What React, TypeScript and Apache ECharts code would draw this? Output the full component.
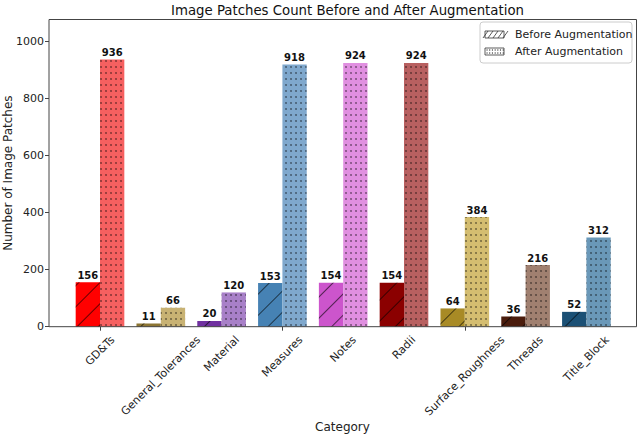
import React, { useEffect, useRef } from "react";
import * as echarts from "echarts";

const categories = [
  "GD&Ts",
  "General_Tolerances",
  "Material",
  "Measures",
  "Notes",
  "Radii",
  "Surface_Roughness",
  "Threads",
  "Title_Block",
];
const beforeValues = [156, 11, 20, 153, 154, 154, 64, 36, 52];
const afterValues = [936, 66, 120, 918, 924, 924, 384, 216, 312];
const beforeColors = [
  "#ff0000",
  "#8c7533",
  "#7030a0",
  "#4682b4",
  "#cc55cc",
  "#8b0000",
  "#a88a25",
  "#4a1c0c",
  "#1b5075",
];
const afterColors = [
  "#f66060",
  "#c8b273",
  "#a880c8",
  "#7fa8cd",
  "#e08fe0",
  "#b86060",
  "#d4bd70",
  "#a08070",
  "#6a98b8",
];
const yTicksMax = 1076;

const FONT = "DejaVu Sans";

export default function App() {
  const ref = useRef<HTMLDivElement>(null);
  useEffect(() => {
    if (!ref.current) return;
    const chart = echarts.init(ref.current, null, { renderer: "svg" });
    const plotL = 49,
      plotR = 636.5,
      plotT = 19.5,
      plotB = 326.7;
    const gridLeft = 69.6;
    const gridWidth = 547.2;

    const hatch = {
      symbol: "rect",
      symbolSize: 1,
      rotation: -Math.PI / 4,
      dashArrayX: [1, 0],
      dashArrayY: [1, 14],
      color: "rgba(0,0,0,0.6)",
    };
    const dots = {
      symbol: "circle",
      symbolSize: 0.8,
      dashArrayX: [2, 2.8],
      dashArrayY: [2, 3.8],
      color: "rgba(0,0,0,0.55)",
    };

    const barLabel = {
      show: true,
      position: "top",
      distance: 2,
      fontFamily: FONT,
      fontSize: 10,
      fontWeight: "bold",
      color: "#111",
    };

    chart.setOption({
      animation: false,
      backgroundColor: "#fff",
      textStyle: { fontFamily: FONT },
      title: {
        text: "Image Patches Count Before and After Augmentation",
        left: 342.5,
        textAlign: "center",
        top: -1,
        textStyle: {
          fontFamily: FONT,
          fontSize: 13.3,
          fontWeight: "normal",
          color: "#111",
        },
      },
      grid: {
        left: gridLeft,
        width: gridWidth,
        top: plotT,
        bottom: 437 - plotB,
        containLabel: false,
        outerBoundsMode: "none",
      },
      xAxis: {
        type: "category",
        data: categories,
        axisLine: { show: false },
        axisTick: {
          show: true,
          alignWithLabel: true,
          length: 4,
          lineStyle: { color: "#444" },
        },
        axisLabel: { show: false },
      },
      yAxis: {
        type: "value",
        min: 0,
        max: yTicksMax,
        interval: 200,
        offset: gridLeft - plotL,
        axisLine: { show: false },
        axisTick: { show: true, length: 4, lineStyle: { color: "#444" } },
        axisLabel: {
          fontFamily: FONT,
          fontSize: 11,
          color: "#222",
          margin: 5,
          showMaxLabel: false,
          formatter: (v: number) => String(v),
        },
        splitLine: { show: false },
      },
      series: [
        {
          name: "Before Augmentation",
          type: "bar",
          barWidth: "40%",
          barGap: "0%",
          itemStyle: { decal: hatch },
          label: barLabel,
          data: beforeValues.map((v, i) => ({
            value: v,
            itemStyle: { color: beforeColors[i], decal: hatch },
          })),
        },
        {
          name: "After Augmentation",
          type: "bar",
          barWidth: "40%",
          barGap: "0%",
          itemStyle: { decal: dots },
          label: barLabel,
          data: afterValues.map((v, i) => ({
            value: v,
            itemStyle: { color: afterColors[i], decal: dots },
          })),
        },
      ],
    });

    const ctx = document.createElement("canvas").getContext("2d");
    const labelFont = 11;
    if (ctx) ctx.font = `${labelFont}px "${FONT}"`;
    const xLabels = categories.map((c) => {
      const px = chart.convertToPixel({ xAxisIndex: 0 }, c) as number;
      const w = ctx ? ctx.measureText(c).width : c.length * 6.5;
      const h = 12;
      const half = (w + h) * Math.SQRT1_2 / 2;
      return {
        type: "text",
        x: px,
        y: plotB + 7 + half,
        rotation: Math.PI / 4,
        style: {
          text: c,
          fontFamily: FONT,
          fontSize: labelFont,
          fill: "#222",
          align: "center",
          verticalAlign: "middle",
        },
        z: 60,
      };
    });

    const hatchLines: any[] = [];
    for (let i = 0; i < 5; i++) {
      const x0 = 485 + i * 5;
      hatchLines.push({
        type: "line",
        shape: { x1: x0 - 2, y1: 38, x2: x0 + 3, y2: 31 },
        style: { stroke: "#333", lineWidth: 0.8 },
        z: 101,
      });
    }
    const dotEls: any[] = [];
    for (let r = 0; r < 2; r++) {
      for (let c = 0; c < 7; c++) {
        dotEls.push({
          type: "circle",
          shape: { cx: 487 + c * 2.7, cy: 50 + r * 3, r: 0.6 },
          style: { fill: "#333" },
          z: 101,
        });
      }
    }

    chart.setOption({
      graphic: [
        {
          type: "rect",
          shape: { x: plotL, y: plotT, width: plotR - plotL, height: plotB - plotT },
          style: { fill: "none", stroke: "#444", lineWidth: 1 },
          z: 50,
          silent: true,
        },
        ...xLabels,
        {
          type: "text",
          x: 342.5,
          y: 427,
          style: {
            text: "Category",
            fontFamily: FONT,
            fontSize: 12,
            fill: "#222",
            align: "center",
            verticalAlign: "middle",
          },
        },
        {
          type: "text",
          x: 8,
          y: (plotT + plotB) / 2,
          rotation: Math.PI / 2,
          style: {
            text: "Number of Image Patches",
            fontFamily: FONT,
            fontSize: 12,
            fill: "#222",
            align: "center",
            verticalAlign: "middle",
          },
        },
        {
          type: "rect",
          shape: { x: 480, y: 22, width: 152, height: 41, r: 3 },
          style: { fill: "rgba(255,255,255,0.85)", stroke: "#ccc", lineWidth: 1 },
          z: 100,
        },
        {
          type: "rect",
          shape: { x: 485, y: 31, width: 19, height: 7 },
          style: { fill: "#fff", stroke: "#333", lineWidth: 0.8 },
          z: 100,
        },
        ...hatchLines,
        {
          type: "rect",
          shape: { x: 485, y: 48, width: 19, height: 7 },
          style: { fill: "#fff", stroke: "#333", lineWidth: 0.8 },
          z: 100,
        },
        ...dotEls,
        {
          type: "text",
          x: 515,
          y: 34.5,
          style: {
            text: "Before Augmentation",
            fontFamily: FONT,
            fontSize: 11,
            fill: "#222",
            verticalAlign: "middle",
          },
          z: 101,
        },
        {
          type: "text",
          x: 515,
          y: 51.5,
          style: {
            text: "After Augmentation",
            fontFamily: FONT,
            fontSize: 11,
            fill: "#222",
            verticalAlign: "middle",
          },
          z: 101,
        },
      ],
    });
    return () => chart.dispose();
  }, []);
  return (
    <div
      ref={ref}
      style={{ position: "fixed", left: 0, top: 0, width: 640, height: 437 }}
    />
  );
}
